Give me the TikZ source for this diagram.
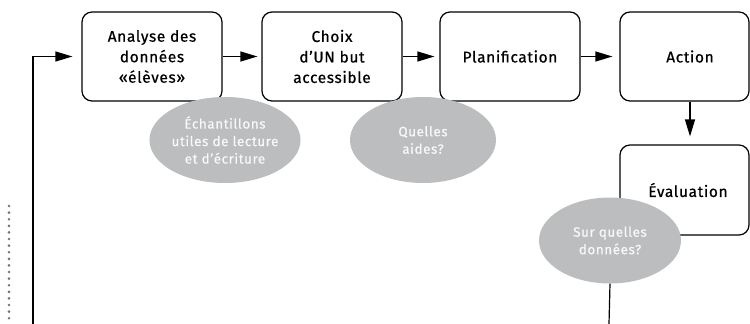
\documentclass[tikz,border=0pt]{standalone}
\usepackage{fontspec}
\setmainfont{Fira Sans}[LetterSpace=4, FakeBold=0.6]
\usetikzlibrary{arrows.meta,shapes.geometric}
\definecolor{ellgray}{RGB}{188,189,191}
\definecolor{dotgray}{RGB}{115,115,115}
\definecolor{btext}{RGB}{248,248,248}
\begin{document}
\begin{tikzpicture}[x=1pt,y=-1pt,
  box/.style={draw=black, line width=1.2pt, rounded corners=10pt, minimum height=89pt, minimum width=140pt, inner sep=0pt, align=center, font=\fontsize{15.5}{20.5}\selectfont},
  bubble/.style={ellipse, fill=ellgray, minimum width=146pt, minimum height=86pt, inner sep=0pt, align=center, text=btext, font=\fontsize{13.5}{17.5}\selectfont},
  arr/.style={line width=1.2pt, -{Triangle[length=17pt,width=10pt]}},
  ln/.style={line width=1.2pt}
]
\useasboundingbox (0,0) rectangle (750,324);
\node[box] (a1) at (152,56.5) {Analyse des\\données\\«élèves»};
\node[box] (a2) at (332,56.5) {Choix\\d’UN but\\accessible};
\node[box] (a3) at (510,56.5) {Planification};
\node[box, minimum width=129pt] (a4) at (684.5,56.5) {\hspace*{11pt}Action};
\node[box, minimum width=129pt, minimum height=90pt] (a5) at (684.5,190) {\hspace*{7pt}Évaluation};
\node[bubble] (e1) at (225,140) {Échantillons\\utiles de lecture\\et d’écriture};
\node[bubble] (e2) at (423,140) {Quelles\\aides?};
\node[bubble, minimum width=142pt] (e3) at (610,240.5) {Sur quelles\\données?};
\coordinate (bl) at (33,324);
\coordinate (br) at (609,324);
\coordinate (d1) at (9,206);
\coordinate (d2) at (9,324);
\draw[arr, shorten >=9pt] (bl) |- (a1.west);
\draw[arr, shorten >=4pt] (a1) -- (a2);
\draw[arr, shorten >=5pt] (a2) -- (a3);
\draw[arr, shorten >=7pt] (a3) -- (a4);
\draw[arr, shorten >=8pt] (a4.south -| 690,0) -- (a5.north -| 690,0);
\draw[ln] (e3.south) -- (br);
\draw[dotgray, line width=2.9pt, line cap=round, dash pattern=on 0pt off 6.6pt] (d1) -- (d2);
\end{tikzpicture}
\end{document}
